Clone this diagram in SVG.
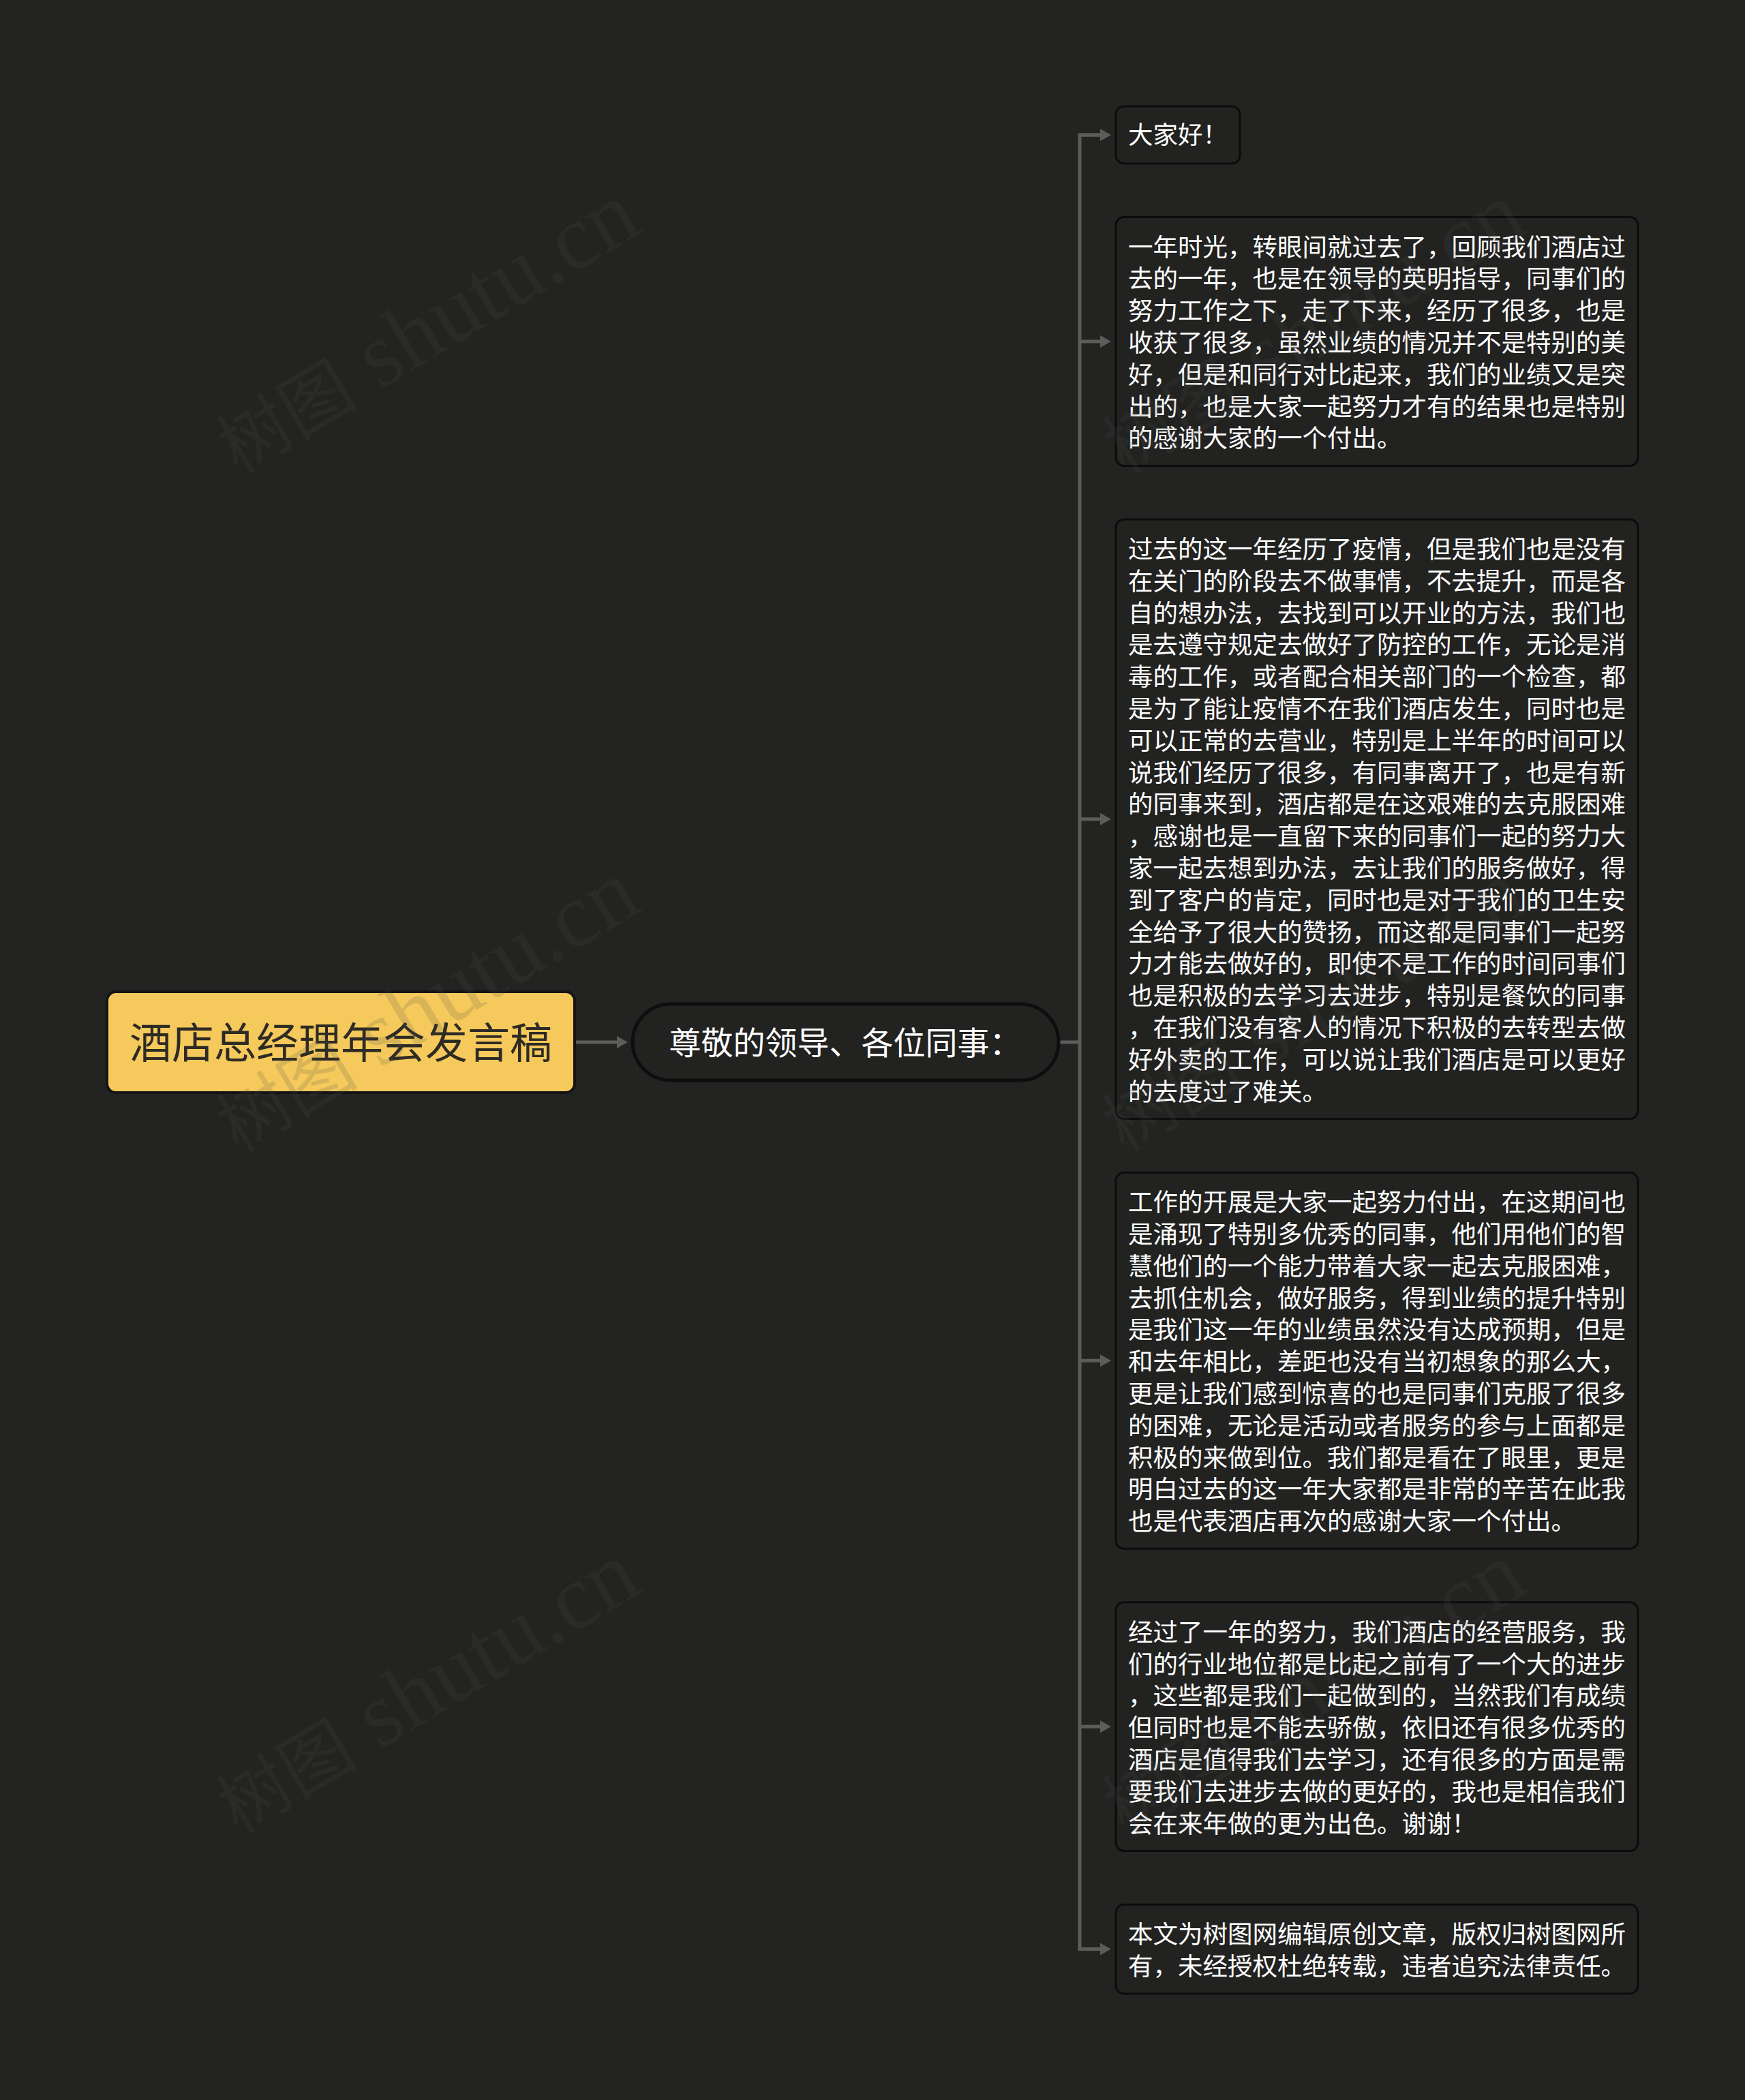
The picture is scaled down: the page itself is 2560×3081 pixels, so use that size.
<svg xmlns="http://www.w3.org/2000/svg" width="2560" height="3081" viewBox="0 0 2560 3081">
<defs>
<style>
.box{fill:#222221;stroke:#0c0c0c;stroke-width:3}
.t{fill:#ffffff;font-family:"Noto Sans CJK SC","Noto Sans",sans-serif;font-size:36.5px}
.edge{fill:none;stroke:#5e5c5a;stroke-width:5}
.wm{fill:#4c4c4c;fill-opacity:0.17;font-family:"Liberation Serif","Noto Sans CJK SC",serif;font-size:104px}
</style>
<marker id="ah" viewBox="0 0 16 18" refX="0" refY="9" markerWidth="16" markerHeight="18" markerUnits="userSpaceOnUse" orient="auto">
<path d="M0,0 L16,9 L0,18 Z" fill="#5e5c5a"/>
</marker>
</defs>
<rect x="0" y="0" width="2560" height="3081" fill="#232322"/>

<g id="connectors">
<path class="edge" d="M845,1529 H905" marker-end="url(#ah)"/>
<path class="edge" d="M1553,1529 H1584"/>
<path class="edge" d="M1614,198 H1584 V2859.6 H1614"/>
<path class="edge" d="M1584,198 H1614" marker-end="url(#ah)"/>
<path class="edge" d="M1584,501 H1614" marker-end="url(#ah)"/>
<path class="edge" d="M1584,1201.8 H1614" marker-end="url(#ah)"/>
<path class="edge" d="M1584,1996.2 H1614" marker-end="url(#ah)"/>
<path class="edge" d="M1584,2533.2 H1614" marker-end="url(#ah)"/>
<path class="edge" d="M1584,2859.6 H1614" marker-end="url(#ah)"/>
</g>

<g id="root">
<rect x="157" y="1455" width="686" height="148" rx="13" fill="#f5c95b" stroke="#141414" stroke-width="4"/>
<text x="500" y="1552.5" text-anchor="middle" fill="#2e2b25" font-family="Noto Sans CJK SC, sans-serif" font-size="62">酒店总经理年会发言稿</text>
</g>

<g id="main">
<rect x="928" y="1473" width="625" height="112" rx="56" fill="#222221" stroke="#0e0e0e" stroke-width="5"/>
<text x="1240" y="1546.8" text-anchor="middle" fill="#ffffff" font-family="Noto Sans CJK SC, sans-serif" font-size="47">尊敬的领导、各位同事：</text>
</g>

<g id="n1">
<rect class="box" x="1637" y="156" width="182" height="84" rx="12"/>
<text class="t" x="1655" y="211">大家好！</text>
</g>

<g id="n2">
<rect class="box" x="1637" y="318.6" width="766" height="364.8" rx="12"/>
<text class="t" x="1655" y="375.6">一年时光，转眼间就过去了，回顾我们酒店过<tspan x="1655" dy="46.8">去的一年，也是在领导的英明指导，同事们的</tspan><tspan x="1655" dy="46.8">努力工作之下，走了下来，经历了很多，也是</tspan><tspan x="1655" dy="46.8">收获了很多，虽然业绩的情况并不是特别的美</tspan><tspan x="1655" dy="46.8">好，但是和同行对比起来，我们的业绩又是突</tspan><tspan x="1655" dy="46.8">出的，也是大家一起努力才有的结果也是特别</tspan><tspan x="1655" dy="46.8">的感谢大家的一个付出。</tspan></text>
</g>

<g id="n3">
<rect class="box" x="1637" y="762" width="766" height="879.6" rx="12"/>
<text class="t" x="1655" y="819">过去的这一年经历了疫情，但是我们也是没有<tspan x="1655" dy="46.8">在关门的阶段去不做事情，不去提升，而是各</tspan><tspan x="1655" dy="46.8">自的想办法，去找到可以开业的方法，我们也</tspan><tspan x="1655" dy="46.8">是去遵守规定去做好了防控的工作，无论是消</tspan><tspan x="1655" dy="46.8">毒的工作，或者配合相关部门的一个检查，都</tspan><tspan x="1655" dy="46.8">是为了能让疫情不在我们酒店发生，同时也是</tspan><tspan x="1655" dy="46.8">可以正常的去营业，特别是上半年的时间可以</tspan><tspan x="1655" dy="46.8">说我们经历了很多，有同事离开了，也是有新</tspan><tspan x="1655" dy="46.8">的同事来到，酒店都是在这艰难的去克服困难</tspan><tspan x="1655" dy="46.8">，感谢也是一直留下来的同事们一起的努力大</tspan><tspan x="1655" dy="46.8">家一起去想到办法，去让我们的服务做好，得</tspan><tspan x="1655" dy="46.8">到了客户的肯定，同时也是对于我们的卫生安</tspan><tspan x="1655" dy="46.8">全给予了很大的赞扬，而这都是同事们一起努</tspan><tspan x="1655" dy="46.8">力才能去做好的，即使不是工作的时间同事们</tspan><tspan x="1655" dy="46.8">也是积极的去学习去进步，特别是餐饮的同事</tspan><tspan x="1655" dy="46.8">，在我们没有客人的情况下积极的去转型去做</tspan><tspan x="1655" dy="46.8">好外卖的工作，可以说让我们酒店是可以更好</tspan><tspan x="1655" dy="46.8">的去度过了难关。</tspan></text>
</g>

<g id="n4">
<rect class="box" x="1637" y="1720.2" width="766" height="552" rx="12"/>
<text class="t" x="1655" y="1777.2">工作的开展是大家一起努力付出，在这期间也<tspan x="1655" dy="46.8">是涌现了特别多优秀的同事，他们用他们的智</tspan><tspan x="1655" dy="46.8">慧他们的一个能力带着大家一起去克服困难，</tspan><tspan x="1655" dy="46.8">去抓住机会，做好服务，得到业绩的提升特别</tspan><tspan x="1655" dy="46.8">是我们这一年的业绩虽然没有达成预期，但是</tspan><tspan x="1655" dy="46.8">和去年相比，差距也没有当初想象的那么大，</tspan><tspan x="1655" dy="46.8">更是让我们感到惊喜的也是同事们克服了很多</tspan><tspan x="1655" dy="46.8">的困难，无论是活动或者服务的参与上面都是</tspan><tspan x="1655" dy="46.8">积极的来做到位。我们都是看在了眼里，更是</tspan><tspan x="1655" dy="46.8">明白过去的这一年大家都是非常的辛苦在此我</tspan><tspan x="1655" dy="46.8">也是代表酒店再次的感谢大家一个付出。</tspan></text>
</g>

<g id="n5">
<rect class="box" x="1637" y="2350.8" width="766" height="364.8" rx="12"/>
<text class="t" x="1655" y="2407.8">经过了一年的努力，我们酒店的经营服务，我<tspan x="1655" dy="46.8">们的行业地位都是比起之前有了一个大的进步</tspan><tspan x="1655" dy="46.8">，这些都是我们一起做到的，当然我们有成绩</tspan><tspan x="1655" dy="46.8">但同时也是不能去骄傲，依旧还有很多优秀的</tspan><tspan x="1655" dy="46.8">酒店是值得我们去学习，还有很多的方面是需</tspan><tspan x="1655" dy="46.8">要我们去进步去做的更好的，我也是相信我们</tspan><tspan x="1655" dy="46.8">会在来年做的更为出色。谢谢！</tspan></text>
</g>

<g id="n6">
<rect class="box" x="1637" y="2794.2" width="766" height="130.8" rx="12"/>
<text class="t" x="1655" y="2851.2">本文为树图网编辑原创文章，版权归树图网所<tspan x="1655" dy="46.8">有，未经授权杜绝转载，违者追究法律责任。</tspan></text>
</g>

<g id="watermarks">
<text class="wm" x="349" y="697" transform="rotate(-31 349 697)">树图<tspan font-size="135"> shutu.cn</tspan></text>
<text class="wm" x="349" y="1692" transform="rotate(-31 349 1692)">树图<tspan font-size="135"> shutu.cn</tspan></text>
<text class="wm" x="349" y="2692" transform="rotate(-31 349 2692)">树图<tspan font-size="135"> shutu.cn</tspan></text>
<text class="wm" x="1649" y="697" transform="rotate(-31 1649 697)">树图<tspan font-size="135"> shutu.cn</tspan></text>
<text class="wm" x="1649" y="1692" transform="rotate(-31 1649 1692)">树图<tspan font-size="135"> shutu.cn</tspan></text>
<text class="wm" x="1649" y="2692" transform="rotate(-31 1649 2692)">树图<tspan font-size="135"> shutu.cn</tspan></text>
</g>
</svg>
